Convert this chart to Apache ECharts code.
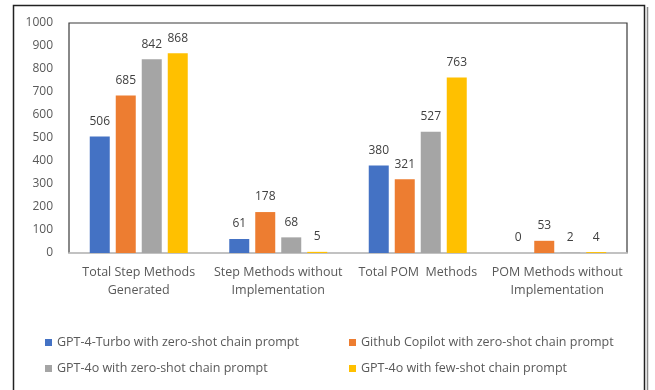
<!DOCTYPE html>
<html>
<head>
<meta charset="utf-8">
<script src="https://cdn.jsdelivr.net/npm/echarts@6/dist/echarts.min.js"></script>
<style>
  html, body { margin: 0; padding: 0; background: #fff; }
  #chart { width: 655px; height: 390px; }
</style>
</head>
<body>
<div id="chart"></div>
<script>
// Method counts per model / prompting strategy
const categories = [
  'Total Step Methods\nGenerated',
  'Step Methods without\nImplementation',
  'Total POM  Methods',
  'POM Methods without\nImplementation'
];
const seriesNames = [
  'GPT-4-Turbo with zero-shot chain prompt',
  'Github Copilot with zero-shot chain prompt',
  'GPT-4o with zero-shot chain prompt',
  'GPT-4o with few-shot chain prompt'
];
const gpt4TurboZeroShot = [506, 61, 380, 0];
const copilotZeroShot = [685, 178, 321, 53];
const gpt4oZeroShot = [842, 68, 527, 2];
const gpt4oFewShot = [868, 5, 763, 4];
const yTicks = { min: 0, max: 1000, interval: 100 };

const colors = ['#4472C4', '#ED7D31', '#A5A5A5', '#FFC000'];
const values = [gpt4TurboZeroShot, copilotZeroShot, gpt4oZeroShot, gpt4oFewShot];
const font = "'Open Sans', 'Liberation Sans', sans-serif";

const chart = echarts.init(document.getElementById('chart'), null, { renderer: 'canvas' });

const legendText = { color: '#595959', fontSize: 12.5, fontFamily: font };

chart.setOption({
  animation: false,
  color: colors,
  textStyle: { fontFamily: font },
  grid: {
    left: 69, right: 28, top: 23, bottom: 137,
    show: true, borderColor: '#3a3a3a', borderWidth: 1.2
  },
  graphic: [
    {
      type: 'rect',
      shape: { x: 13.5, y: 5.5, width: 631, height: 400 },
      style: { fill: 'none', stroke: '#222', lineWidth: 1.5 },
      z: 10
    },
    {
      type: 'line',
      shape: { x1: 647.5, y1: 7, x2: 647.5, y2: 395 },
      style: { stroke: '#888', lineWidth: 1.5 },
      z: 10
    }
  ],
  legend: [
    {
      data: [seriesNames[0], seriesNames[2]],
      orient: 'vertical',
      left: 40, top: 331,
      itemWidth: 7, itemHeight: 7, itemGap: 13,
      icon: 'rect',
      textStyle: legendText
    },
    {
      data: [seriesNames[1], seriesNames[3]],
      orient: 'vertical',
      left: 344, top: 331,
      itemWidth: 7, itemHeight: 7, itemGap: 13,
      icon: 'rect',
      textStyle: legendText
    }
  ],
  xAxis: {
    type: 'category',
    data: categories,
    axisTick: { show: false },
    axisLine: { lineStyle: { color: '#d0d0d0', width: 1.5 } },
    axisLabel: {
      interval: 0, color: '#595959', fontSize: 12.5, lineHeight: 18,
      margin: 10, fontFamily: font
    }
  },
  yAxis: {
    type: 'value',
    min: yTicks.min, max: yTicks.max, interval: yTicks.interval,
    splitLine: { show: false },
    axisLine: { show: false },
    axisTick: { show: false },
    axisLabel: {
      color: '#595959', fontSize: 12, margin: 16, fontFamily: font,
      formatter: (v) => String(v)
    }
  },
  series: seriesNames.map((name, i) => ({
    name,
    type: 'bar',
    data: values[i],
    barWidth: 20,
    barGap: '30%',
    itemStyle: { color: colors[i] },
    label: {
      show: true, position: 'top', distance: 9,
      color: '#404040', fontSize: 12, fontFamily: font
    }
  }))
});
</script>
</body>
</html>
